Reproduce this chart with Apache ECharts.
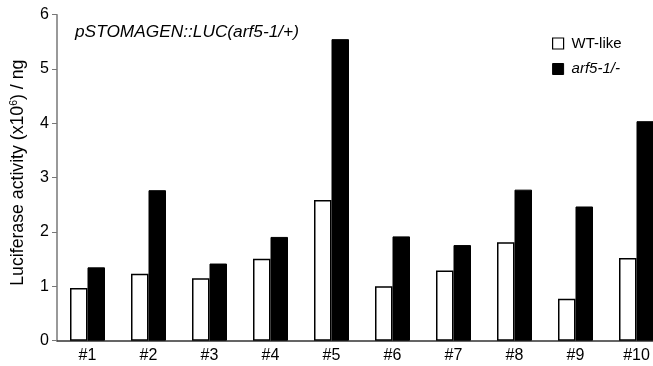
<!DOCTYPE html>
<html>
<head>
<meta charset="utf-8">
<script src="https://cdn.jsdelivr.net/npm/echarts@6/dist/echarts.min.js"></script>
<style>html,body{margin:0;padding:0;background:#fff}#c{width:653px;height:366px}</style>
</head>
<body>
<div id="c"></div>
<script>
const categories = ['#1','#2','#3','#4','#5','#6','#7','#8','#9','#10'];
const wtLike = [0.97, 1.23, 1.15, 1.51, 2.59, 1.00, 1.29, 1.81, 0.77, 1.52];
const arf5 = [1.35, 2.77, 1.42, 1.91, 5.55, 1.92, 1.76, 2.78, 2.47, 4.04];
const yTicks = [0, 1, 2, 3, 4, 5, 6];

const FONT = '"Liberation Sans", Arial, sans-serif';
const chart = echarts.init(document.getElementById('c'));
chart.setOption({
  animation: false,
  backgroundColor: '#fff',
  textStyle: { fontFamily: FONT },
  grid: { left: 57, right: -14, top: 14.7, bottom: 25.3, containLabel: false, outerBoundsMode: 'none' },
  graphic: [{
    type: 'text', left: 75, top: 24,
    style: { text: 'pSTOMAGEN::LUC(arf5-1/+)', font: 'italic 17.3px ' + FONT, fill: '#000' }
  }],
  legend: {
    orient: 'vertical', left: 552, top: 36, padding: 0,
    itemWidth: 11, itemHeight: 11, itemGap: 10.5,
    icon: 'rect',
    textStyle: { fontSize: 15, color: '#000', fontFamily: FONT, padding: [0,0,0,3] },
    data: [
      { name: 'WT-like', itemStyle: { color: '#fff', borderColor: '#000', borderWidth: 1.2 } },
      { name: 'arf5-1/-', textStyle: { fontStyle: 'italic' }, itemStyle: { color: '#000', borderColor: '#000', borderWidth: 1 } }
    ]
  },
  xAxis: {
    type: 'category', data: categories,
    axisLine: { lineStyle: { color: '#333', width: 1.5 } },
    axisTick: { alignWithLabel: true, length: 4, lineStyle: { color: '#333' } },
    axisLabel: { color: '#000', fontSize: 16, margin: 7, fontFamily: FONT }
  },
  yAxis: {
    type: 'value', min: yTicks[0], max: yTicks[yTicks.length - 1], interval: 1,
    name: '{a|Luciferase activity (x10}{s|6}{a|) / ng}',
    nameLocation: 'middle', nameGap: 29, nameRotate: 90,
    nameTextStyle: {
      padding: [0, 0, 0, 10],
      rich: {
        a: { fontSize: 17.7, color: '#000', fontFamily: FONT },
        s: { fontSize: 10.5, color: '#000', fontFamily: FONT, verticalAlign: 'top', padding: [0,0,8,0] }
      }
    },
    splitLine: { show: false },
    axisLine: { show: true, lineStyle: { color: '#777', width: 1.5 } },
    axisTick: { show: true, length: 5, lineStyle: { color: '#777' } },
    axisLabel: { color: '#000', fontSize: 16, margin: 8, fontFamily: FONT }
  },
  series: [
    { name: 'WT-like', type: 'bar', data: wtLike, barWidth: 17.5, barGap: '0%',
      itemStyle: { color: '#fff', borderColor: '#000', borderWidth: 1.5 } },
    { name: 'arf5-1/-', type: 'bar', data: arf5, barWidth: 17.5,
      itemStyle: { color: '#000', borderColor: '#000', borderWidth: 1 } }
  ]
});
</script>
</body>
</html>
